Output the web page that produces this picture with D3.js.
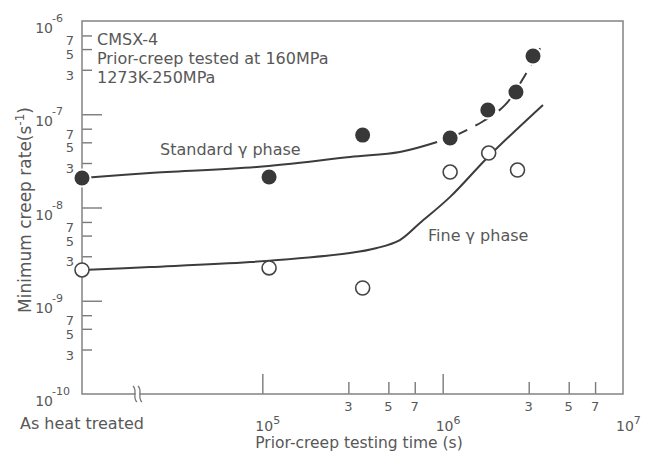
<!DOCTYPE html>
<meta charset="utf-8">
<style>
body { margin: 0; background: #fff; }
svg { font-family: "DejaVu Sans", sans-serif; }
.frame { fill: none; stroke: #8a8a8a; stroke-width: 1.6; }
.axis path { stroke: none; }
.axis line { stroke: #7a7a7a; stroke-width: 1.4; }
.lbl { fill: #585858; }
.fit { fill: none; stroke: #3c3c3c; stroke-width: 2; }
</style>
<body>
<script src="https://d3js.org/d3.v7.min.js"></script>
<script>
// "As heat treated" specimens sit on the left edge of the log axis (1e4 s)
var asHeat = 1e4;

// measured points, standard gamma' (filled) and fine gamma' (open)
var stdTime = [asHeat, 1.09e5, 3.6e5, 1.1e6, 1.78e6, 2.55e6, 3.17e6];
var stdRate = [2.07e-8, 2.12e-8, 5.98e-8, 5.56e-8, 1.11e-7, 1.73e-7, 4.22e-7];
var fineTime = [asHeat, 1.09e5, 3.6e5, 1.1e6, 1.8e6, 2.6e6];
var fineRate = [2.14e-9, 2.25e-9, 1.37e-9, 2.4e-8, 3.84e-8, 2.52e-8];

// hand-drawn trend curves
var stdFitTime = [asHeat, 2.38e4, 9.33e4, 3.06e5, 5.79e5, 9.31e5];
var stdFitRate = [2.07e-8, 2.34e-8, 2.72e-8, 3.48e-8, 3.94e-8, 5.04e-8];
var stdDashTime = [1.1e6, 1.65e6, 2.22e6, 2.87e6, 3.6e6];
var stdDashRate = [5.56e-8, 8.26e-8, 1.26e-7, 2.64e-7, 5.81e-7];
var fineFitTime = [asHeat, 2.38e4, 8.56e4, 3.06e5, 4.32e5, 5.79e5, 7.48e5, 1.1e6, 1.83e6, 3.6e6];
var fineFitRate = [2.14e-9, 2.30e-9, 2.60e-9, 3.25e-9, 3.68e-9, 4.48e-9, 6.82e-9, 1.30e-8, 3.66e-8, 1.26e-7];

// ticks
var xMajor = [1e5, 1e6];
var xMinor = [3e5, 5e5, 7e5, 3e6, 5e6, 7e6];
var xMinorText = ["3", "5", "7", "3", "5", "7"];
var xPowLabels = [1e5, 1e6, 1e7];
var xPowText = ["5", "6", "7"];
var yMajor = [1e-9, 1e-8, 1e-7];
var yMinor = [3e-10, 5e-10, 7e-10, 3e-9, 5e-9, 7e-9, 3e-8, 5e-8, 7e-8, 3e-7, 5e-7, 7e-7];
var yMinorText = ["3", "5", "7", "3", "5", "7", "3", "5", "7", "3", "5", "7"];
var yPowLabels = [1e-10, 1e-9, 1e-8, 1e-7, 1e-6];
var yPowText = ["-10", "-9", "-8", "-7", "-6"];

var notes = ["CMSX-4", "Prior-creep tested at 160MPa", "1273K-250MPa"];

var width = 648, height = 453;
var x = d3.scaleLog().domain([1e4, 1e7]).range([82, 623]);
var y = d3.scaleLog().domain([1e-10, 1e-6]).range([394, 21]);

var svg = d3.select('body').append('svg')
    .attr('width', width)
    .attr('height', height);

// y ticks (pointing into the plot)
svg.append('g').attr('class', 'axis')
    .attr('transform', 'translate(' + x.range()[0] + ',0)')
    .call(d3.axisRight(y).tickValues(yMajor).tickSize(20).tickFormat(''));
svg.append('g').attr('class', 'axis')
    .attr('transform', 'translate(' + x.range()[0] + ',0)')
    .call(d3.axisRight(y).tickValues(yMinor).tickSize(10).tickFormat(''));

// x ticks (pointing up)
svg.append('g').attr('class', 'axis')
    .attr('transform', 'translate(0,' + y.range()[0] + ')')
    .call(d3.axisTop(x).tickValues(xMajor).tickSize(20).tickFormat(''));
svg.append('g').attr('class', 'axis')
    .attr('transform', 'translate(0,' + y.range()[0] + ')')
    .call(d3.axisTop(x).tickValues(xMinor).tickSize(12).tickFormat(''));

svg.append('rect').attr('class', 'frame')
    .attr('x', x.range()[0]).attr('y', y.range()[1])
    .attr('width', x.range()[1] - x.range()[0])
    .attr('height', y.range()[0] - y.range()[1]);

// axis break between "as heat treated" and 1e5
var bx = x(2.03e4), by = y.range()[0];
svg.append('rect').attr('x', bx - 2).attr('y', by - 2).attr('width', 4).attr('height', 4).attr('fill', '#fff');
[-2.5, 2.5].forEach(function(o) {
  svg.append('path')
      .attr('d', 'M' + (bx + o - 2) + ',' + (by - 8) + ' C' + (bx + o + 3) + ',' + (by - 4) + ' ' + (bx + o - 3) + ',' + (by + 4) + ' ' + (bx + o + 2) + ',' + (by + 8))
      .attr('fill', 'none').attr('stroke', '#777').attr('stroke-width', 1.3);
});

// y labels
svg.selectAll('.ypow').data(yPowLabels).enter().append('text')
    .attr('class', 'lbl')
    .attr('x', 53).attr('y', function(d) { return y(d) + 12; })
    .attr('text-anchor', 'end').style('font-size', '14px').text('10');
svg.selectAll('.ypowsup').data(yPowLabels).enter().append('text')
    .attr('class', 'lbl')
    .attr('x', 52).attr('y', function(d) { return y(d) + 1; })
    .style('font-size', '11px').text(function(d, i) { return yPowText[i]; });
svg.selectAll('.yminor').data(yMinor).enter().append('text')
    .attr('class', 'lbl')
    .attr('x', 74).attr('y', function(d) { return y(d) + 10; })
    .attr('text-anchor', 'end').style('font-size', '13px')
    .text(function(d, i) { return yMinorText[i]; });

// x labels
svg.selectAll('.xminor').data(xMinor).enter().append('text')
    .attr('class', 'lbl')
    .attr('x', function(d) { return x(d); }).attr('y', 411)
    .attr('text-anchor', 'middle').style('font-size', '13px')
    .text(function(d, i) { return xMinorText[i]; });
svg.selectAll('.xpow').data(xPowLabels).enter().append('text')
    .attr('class', 'lbl')
    .attr('x', function(d) { return x(d) - 7; }).attr('y', 431)
    .style('font-size', '14px').text('10')
  .append('tspan')
    .attr('dy', -7).style('font-size', '11px')
    .text(function(d, i) { return xPowText[i]; });

svg.append('text').attr('class', 'lbl')
    .attr('x', 20).attr('y', 429).style('font-size', '16px')
    .text('As heat treated');

svg.append('text').attr('class', 'lbl')
    .attr('x', 359).attr('y', 448).attr('text-anchor', 'middle')
    .style('font-size', '15.5px').text('Prior-creep testing time (s)');

var yl = svg.append('text').attr('class', 'lbl')
    .attr('transform', 'translate(31,210) rotate(-90)')
    .attr('text-anchor', 'middle').style('font-size', '17px');
yl.append('tspan').text('Minimum creep rate(s');
yl.append('tspan').attr('dy', -7).style('font-size', '12px').text('-1');
yl.append('tspan').attr('dy', 7).text(')');

// notes
svg.selectAll('.note').data(notes).enter().append('text')
    .attr('class', 'lbl')
    .attr('x', 97).attr('y', function(d, i) { return 45 + i * 19; })
    .style('font-size', '16px').text(function(d) { return d; });

svg.append('text').attr('class', 'lbl').attr('x', 160).attr('y', 155)
    .style('font-size', '16px').text('Standard \u03b3 phase');
svg.append('text').attr('class', 'lbl').attr('x', 428).attr('y', 241)
    .style('font-size', '16px').text('Fine \u03b3 phase');

// curves
var line = d3.line()
    .x(function(d) { return x(d[0]); })
    .y(function(d) { return y(d[1]); })
    .curve(d3.curveCatmullRom);

function pairs(t, r) { return t.map(function(v, i) { return [v, r[i]]; }); }

svg.append('path').attr('class', 'fit').attr('d', line(pairs(stdFitTime, stdFitRate)));
svg.append('path').attr('class', 'fit').attr('d', line(pairs(fineFitTime, fineFitRate)));
svg.append('path').attr('class', 'fit').attr('stroke-dasharray', '19,9')
    .attr('d', line(pairs(stdDashTime, stdDashRate)));

// points
svg.selectAll('.std').data(pairs(stdTime, stdRate)).enter().append('circle')
    .attr('cx', function(d) { return x(d[0]); })
    .attr('cy', function(d) { return y(d[1]); })
    .attr('r', 7.5)
    .attr('fill', '#383838').attr('stroke', '#fff').attr('stroke-width', 4)
    .attr('paint-order', 'stroke');
svg.selectAll('.fine').data(pairs(fineTime, fineRate)).enter().append('circle')
    .attr('cx', function(d) { return x(d[0]); })
    .attr('cy', function(d) { return y(d[1]); })
    .attr('r', 7)
    .attr('fill', '#fff').attr('stroke', '#444').attr('stroke-width', 1.6);
</script>
</body>
